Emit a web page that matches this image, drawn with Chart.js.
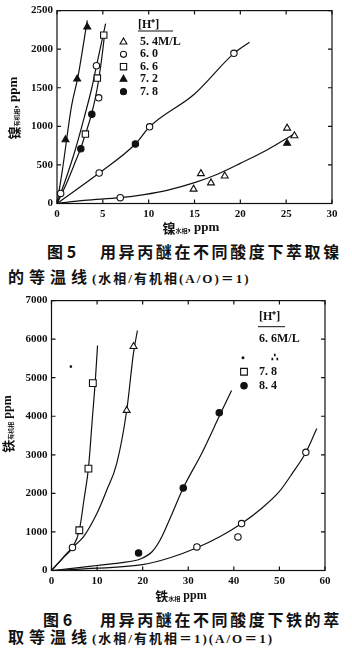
<!DOCTYPE html>
<html>
<head>
<meta charset="utf-8">
<script src="https://cdn.jsdelivr.net/npm/chart.js@4.4.1/dist/chart.umd.min.js"></script>
<style>
  body { margin: 0; width: 352px; height: 660px; background: #fff; position: relative; overflow: hidden; }
  .wrap { position: absolute; left: 0; width: 352px; }
  .cap { position: absolute; white-space: nowrap; line-height: 1; color: #111;
         font-family: "Noto Sans CJK SC", sans-serif; font-weight: bold; font-size: 16px; }
  .sm { font-family: "Liberation Serif", "Noto Sans CJK SC", serif; font-size: 13px; letter-spacing: 2px; }
</style>
</head>
<body>
<div class="wrap" style="top:0;height:236px"><canvas id="niChart"></canvas></div>
<div class="wrap" style="top:290px;height:312px"><canvas id="feChart"></canvas></div>

<div class="cap" style="top:243px;left:47px">图 5</div>
<div class="cap" style="top:243px;left:100px;letter-spacing:2.6px">用异丙醚在不同酸度下萃取镍</div>
<div class="cap" style="top:268px;left:8px;letter-spacing:5px">的等温线<span class="sm">(水相/有机相(A/O)＝1)</span></div>

<div class="cap" style="top:611px;left:43px">图 6</div>
<div class="cap" style="top:611px;left:100px;letter-spacing:2.6px">用异丙醚在不同酸度下铁的萃</div>
<div class="cap" style="top:628px;left:8px;letter-spacing:5px">取等温线<span class="sm">(水相/有机相＝1)(A/O＝1)</span></div>

<script>
// ---- Fig.5 : nickel ----
const niXTicks = [0, 5, 10, 15, 20, 25, 30];
const niYTicks = [0, 500, 1000, 1500, 2000, 2500];
const niLabels = ['5. 4M/L', '6. 0', '6. 6', '7. 2', '7. 8'];

// measured points
const ni54X = [14.9, 15.7, 16.8, 18.3, 25.1, 25.9];
const ni54Y = [186, 387, 267, 357, 977, 878];
const ni60X = [0.4, 4.3, 4.55, 4.6, 6.9, 10.1, 19.3];
const ni60Y = [131, 1785, 1369, 395, 75, 994, 1946];
const ni66X = [3.1, 4.4, 5.1];
const ni66Y = [900, 1626, 2182];
const ni72X = [0.93, 2.2, 3.3, 25.1];
const ni72Y = [827, 1613, 2288, 780];
const ni78X = [2.6, 3.8, 8.55];
const ni78Y = [708, 1156, 771];

// drawn curves
const niFitAX = [0, 0.56, 1.58, 2.3, 3.3];
const niFitAY = [0, 410, 1260, 1650, 2374];
const niFitBX = [0, 1, 2, 3, 3.8, 4.3, 5.3];
const niFitBY = [0, 330, 700, 1130, 1500, 1780, 2330];
const niFitCX = [0, 1, 2, 2.6, 3.1, 3.8, 4.4, 4.9, 5.2];
const niFitCY = [0, 250, 540, 720, 900, 1170, 1500, 1900, 2200];
const niFitDX = [0, 4.6, 8.55, 10.1, 15, 19.3, 21.0];
const niFitDY = [0, 395, 771, 994, 1420, 1946, 2090];
const niFitEX = [0, 3, 6.9, 9.5, 12, 15, 17.5, 20, 23, 25.9];
const niFitEY = [0, 40, 75, 115, 170, 270, 380, 520, 700, 905];

// ---- Fig.6 : iron ----
const feXTicks = [0, 10, 20, 30, 40, 50, 60];
const feYTicks = [0, 1000, 2000, 3000, 4000, 5000, 6000, 7000];
const feLabels = ['6. 6M/L', '∴', '7. 8', '8. 4'];

const feTriX = [16.5, 18.0];
const feTriY = [4152, 5810];
const feCircX = [4.6, 31.9, 40.9, 41.7, 55.8];
const feCircY = [596, 611, 870, 1217, 3064];
const fe78X = [6.1, 8.1, 9.07];
const fe78Y = [1044, 2641, 4860];
const fe84X = [19.1, 28.9, 36.8];
const fe84Y = [456, 2140, 4092];
const feDotX = [4.25];
const feDotY = [5290];

const feFitAX = [0, 2.5, 4.6, 6.1, 7.2, 8.1, 9.0, 9.6, 10.1];
const feFitAY = [0, 320, 600, 1040, 1900, 2650, 4000, 4900, 5835];
const feFitBX = [0, 2.5, 4.6, 7.0, 9.95, 12, 14.3, 16.5, 18.0, 18.85];
const feFitBY = [0, 330, 600, 870, 1476, 2050, 2771, 4150, 5650, 6224];
const feFitCX = [0, 5, 10, 15, 19.5, 22, 23.8, 26, 28.9, 33, 36.8, 39.5];
const feFitCY = [0, 60, 130, 200, 300, 480, 785, 1350, 2140, 3050, 4000, 4670];
const feFitDX = [0, 10, 20, 26, 31.9, 37, 41.7, 46, 50, 53, 55.8, 58.2];
const feFitDY = [0, 60, 150, 330, 590, 880, 1217, 1600, 2050, 2550, 3060, 3680];

const INK = '#111';
const pts = (xs, ys) => xs.map((x, i) => ({ x, y: ys[i] }));

function fit(xs, ys) {
  return { type: 'line', data: pts(xs, ys), borderColor: INK, borderWidth: 1.2,
           pointRadius: 0, fill: false, cubicInterpolationMode: 'monotone', order: 2 };
}
function marks(xs, ys, style, filled, r) {
  return { type: 'scatter', data: pts(xs, ys), pointStyle: style, pointRadius: r,
           backgroundColor: filled ? INK : '#fff', borderColor: INK, borderWidth: 1.1, order: 1 };
}

function drawMark(ctx, style, filled, x, y, r) {
  ctx.beginPath();
  if (style === 'triangle') {
    ctx.moveTo(x, y - r); ctx.lineTo(x + r * 0.9, y + r * 0.6); ctx.lineTo(x - r * 0.9, y + r * 0.6);
    ctx.closePath();
  } else if (style === 'rect') {
    ctx.rect(x - r * 0.75, y - r * 0.75, r * 1.5, r * 1.5);
  } else {
    ctx.arc(x, y, r * 0.8, 0, Math.PI * 2);
  }
  ctx.fillStyle = filled ? INK : '#fff';
  ctx.strokeStyle = INK;
  ctx.lineWidth = 1.1;
  ctx.fill(); ctx.stroke();
}

// box round the plot with ticks pointing inward on all sides
const inwardTicks = {
  id: 'inwardTicks',
  afterDraw(chart) {
    const { ctx, chartArea: a, scales } = chart;
    const len = 4;
    ctx.save();
    ctx.strokeStyle = INK; ctx.lineWidth = 1.2;
    ctx.strokeRect(a.left, a.top, a.right - a.left, a.bottom - a.top);
    ctx.beginPath();
    scales.x.ticks.forEach(t => {
      const p = scales.x.getPixelForValue(t.value);
      ctx.moveTo(p, a.bottom); ctx.lineTo(p, a.bottom - len);
      ctx.moveTo(p, a.top); ctx.lineTo(p, a.top + len);
    });
    scales.y.ticks.forEach(t => {
      const p = scales.y.getPixelForValue(t.value);
      ctx.moveTo(a.left, p); ctx.lineTo(a.left + len, p);
      ctx.moveTo(a.right, p); ctx.lineTo(a.right - len, p);
    });
    ctx.stroke();
    ctx.restore();
  }
};

// axis titles with small subscripts
const subTitles = {
  id: 'subTitles',
  afterDraw(chart, args, opts) {
    const { ctx } = chart;
    (opts.items || []).forEach(it => {
      ctx.save();
      ctx.translate(it.x, it.y);
      if (it.rot) ctx.rotate(it.rot);
      ctx.fillStyle = INK;
      ctx.textBaseline = 'middle';
      let w = 0;
      it.parts.forEach(p => { ctx.font = p[1]; w += ctx.measureText(p[0]).width; });
      let x = -w / 2;
      it.parts.forEach(p => {
        ctx.font = p[1];
        ctx.fillText(p[0], x, p[2] || 0);
        x += ctx.measureText(p[0]).width;
      });
      ctx.restore();
    });
  }
};

// legend block inside the plot: header, underline, marker rows
const hLegend = {
  id: 'hLegend',
  afterDraw(chart, args, o) {
    if (!o.rows) return;
    const { ctx } = chart;
    ctx.save();
    ctx.fillStyle = INK; ctx.strokeStyle = INK;
    ctx.textBaseline = 'middle';
    ctx.font = o.font;
    ctx.fillText('[H⁺]', o.hx, o.hy);
    ctx.lineWidth = 1;
    ctx.beginPath(); ctx.moveTo(o.ux1, o.uy); ctx.lineTo(o.ux2, o.uy); ctx.stroke();
    o.rows.forEach(r => {
      if (r.style) drawMark(ctx, r.style, r.filled, r.mx, r.y, r.r || 3.8);
      ctx.fillStyle = INK;
      ctx.font = o.font;
      ctx.fillText(r.text, r.tx, r.y);
    });
    ctx.restore();
  }
};

function axes(xTicks, yTicks, yWidth, xHeight, fontSize) {
  const font = { family: '"Liberation Serif", serif', size: fontSize, weight: 'bold' };
  const plain = v => String(v);
  return {
    x: { type: 'linear', min: xTicks[0], max: xTicks[xTicks.length - 1],
         afterBuildTicks: s => { s.ticks = xTicks.map(v => ({ value: v })); },
         afterFit: s => { s.height = xHeight; },
         grid: { display: false, drawTicks: false }, border: { display: false },
         ticks: { padding: 4, font, color: INK, maxRotation: 0, autoSkip: false, callback: plain } },
    y: { type: 'linear', min: yTicks[0], max: yTicks[yTicks.length - 1],
         afterBuildTicks: s => { s.ticks = yTicks.map(v => ({ value: v })); },
         afterFit: s => { s.width = yWidth; },
         grid: { display: false, drawTicks: false }, border: { display: false },
         ticks: { padding: 4, font, color: INK, autoSkip: false, callback: plain } }
  };
}

const CJK = '"Noto Sans CJK SC", sans-serif';
const SERIF = '"Liberation Serif", serif';

new Chart(document.getElementById('niChart'), {
  type: 'scatter',
  data: {
    datasets: [
      marks(ni54X, ni54Y, 'triangle', false, 4),
      marks(ni60X, ni60Y, 'circle', false, 3.2),
      marks(ni66X, ni66Y, 'rect', false, 4.5),
      marks(ni72X, ni72Y, 'triangle', true, 4),
      marks(ni78X, ni78Y, 'circle', true, 3.2),
      fit(niFitAX, niFitAY),
      fit(niFitBX, niFitBY),
      fit(niFitCX, niFitCY),
      fit(niFitDX, niFitDY),
      fit(niFitEX, niFitEY)
    ]
  },
  options: {
    responsive: true,
    maintainAspectRatio: false,
    animation: false,
    events: [],
    layout: { padding: { left: 0, right: 20, top: 8.5, bottom: 0 } },
    scales: axes(niXTicks, niYTicks, 57, 32.5, 11),
    plugins: {
      legend: { display: false },
      tooltip: { enabled: false },
      subTitles: { items: [
        { x: 191, y: 228, parts: [['镍', 'bold 13px ' + CJK], ['水相', 'bold 6px ' + CJK, 3], [', ppm', 'bold 13px ' + SERIF]] },
        { x: 14, y: 108, rot: -Math.PI / 2, parts: [['镍', 'bold 13px ' + CJK], ['有机相', 'bold 6px ' + CJK, 3], [', ppm', 'bold 13px ' + SERIF]] }
      ] },
      hLegend: {
        font: 'bold 12px ' + SERIF, hx: 138, hy: 25, ux1: 138, ux2: 173, uy: 31,
        rows: [
          { style: 'triangle', filled: false, mx: 123.5, tx: 140, y: 41.7, text: niLabels[0] },
          { style: 'circle', filled: false, mx: 123.5, tx: 140, y: 54.3, text: niLabels[1] },
          { style: 'rect', filled: false, mx: 123.5, tx: 140, y: 66.7, text: niLabels[2], r: 4.2 },
          { style: 'triangle', filled: true, mx: 123.5, tx: 140, y: 79, text: niLabels[3] },
          { style: 'circle', filled: true, mx: 123.5, tx: 140, y: 91.7, text: niLabels[4] }
        ]
      }
    }
  },
  plugins: [inwardTicks, subTitles, hLegend]
});

new Chart(document.getElementById('feChart'), {
  type: 'scatter',
  data: {
    datasets: [
      marks(feTriX, feTriY, 'triangle', false, 4),
      marks(feCircX, feCircY, 'circle', false, 3.2),
      marks(fe78X, fe78Y, 'rect', false, 4.8),
      marks(fe84X, fe84Y, 'circle', true, 3.2),
      marks(feDotX, feDotY, 'circle', true, 0.8),
      fit(feFitAX, feFitAY),
      fit(feFitBX, feFitBY),
      fit(feFitCX, feFitCY),
      fit(feFitDX, feFitDY)
    ]
  },
  options: {
    responsive: true,
    maintainAspectRatio: false,
    animation: false,
    events: [],
    layout: { padding: { left: 0, right: 27, top: 10, bottom: 0 } },
    scales: axes(feXTicks, feYTicks, 51.5, 31.5, 11),
    plugins: {
      legend: { display: false },
      tooltip: { enabled: false },
      subTitles: { items: [
        { x: 181, y: 306, parts: [['铁', 'bold 13px ' + CJK], ['水相', 'bold 6px ' + CJK, 3], [' ppm', 'bold 12px ' + SERIF]] },
        { x: 8, y: 134, rot: -Math.PI / 2, parts: [['铁', 'bold 13px ' + CJK], ['有机相', 'bold 6px ' + CJK, 3], [' ppm', 'bold 12px ' + SERIF]] }
      ] },
      hLegend: {
        font: 'bold 12px ' + SERIF, hx: 259, hy: 27, ux1: 258, ux2: 285, uy: 36.7,
        rows: [
          { tx: 259, y: 49.3, text: feLabels[0] },
          { style: 'circle', filled: true, r: 1.2, mx: 243, tx: 271, y: 67.7, text: feLabels[1] },
          { style: 'rect', filled: false, r: 4.5, mx: 244, tx: 259, y: 81.7, text: feLabels[2] },
          { style: 'circle', filled: true, r: 4, mx: 244, tx: 259, y: 95.7, text: feLabels[3] }
        ]
      }
    }
  },
  plugins: [inwardTicks, subTitles, hLegend]
});
</script>
</body>
</html>
